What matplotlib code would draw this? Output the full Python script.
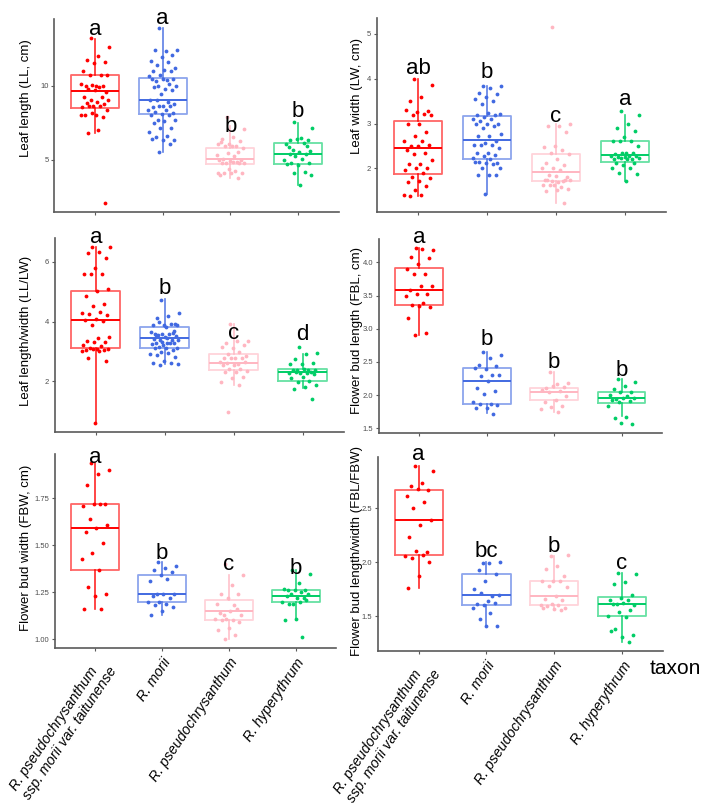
import matplotlib
matplotlib.use("Agg")
import matplotlib.pyplot as plt
import numpy as np

plt.rcParams['font.family'] = ['Liberation Sans', 'DejaVu Sans']

# ---------------- data ----------------
taxa = ["R. pseudochrysanthum\nssp. morii var. taitunense", "R. morii",
        "R. pseudochrysanthum", "R. hyperythrum"]
colors = ["#FF0000", "#4169E1", "#FFB6C1", "#00CD66"]

ll_red = [13.23, 12.62, 12.0, 11.73, 11.6, 11.55, 11.0, 10.72, 10.72, 10.72, 10.0, 10.0, 9.98, 10.04, 10.1, 9.9,
          9.75, 9.55, 9.7, 9.2, 9.2, 9.0, 9.0, 8.92, 8.8, 8.75, 8.63, 8.55, 8.59, 8.62, 8.36, 8.0, 8.0, 7.9, 8.15,
          8.03, 7.0, 6.8, 2.04]
ll_blue = [13.92, 12.44, 12.35, 12.44, 12.06, 11.95, 11.68, 11.62, 11.39, 11.2, 11.05, 10.99, 11.02, 10.7, 10.65,
           10.38, 10.3, 10.43, 10.45, 10.43, 10.13, 10.0, 9.98, 9.75, 9.93, 9.71, 9.44, 9.04, 8.92, 9.04, 8.74, 8.63,
           8.54, 8.59, 8.59, 8.36, 8.32, 8.25, 8.18, 8.1, 8.03, 8.03, 7.65, 7.69, 7.58, 7.47, 7.13, 7.15, 6.84, 6.61,
           6.5, 6.35, 6.35, 6.4, 6.03, 5.54]
ll_pink = [7.87, 7.06, 6.52, 6.39, 6.23, 6.08, 6.08, 5.9, 5.9, 5.81, 5.9, 6.17, 5.54, 5.45, 5.3, 5.27, 5.05, 4.96,
           4.9, 4.96, 4.84, 4.78, 4.73, 4.82, 4.73, 4.78, 4.33, 4.1, 4.22, 4.06, 4.06, 4.1, 3.92, 3.77]
ll_green = [7.51, 7.13, 6.43, 6.34, 6.34, 6.39, 6.08, 6.12, 5.63, 5.56, 5.49, 5.83, 5.34, 5.22, 5.0, 5.05, 4.73,
            4.78, 4.62, 4.71, 4.17, 4.1, 3.95, 3.27, 5.4, 5.9]
ll_q1 = [8.5, 8.05, 4.71, 4.71]
ll_med = [9.62, 9.04, 5.05, 5.38]
ll_q3 = [10.7, 10.54, 5.78, 6.12]
ll_lo = [6.8, 5.54, 3.77, 3.27]
ll_hi = [13.18, 13.9, 7.24, 7.47]
ll_letters = ["a", "a", "b", "b"]

lw_red = [4.0, 3.85, 3.59, 3.5, 3.29, 3.26, 3.3, 3.21, 3.19, 3.19, 2.98, 3.0, 2.8, 2.71, 2.6, 2.6, 2.5, 2.51, 2.49,
          2.4, 2.35, 2.31, 2.19, 2.09, 2.09, 2.0, 2.0, 1.96, 1.89, 1.81, 1.78, 1.72, 1.7, 1.61, 1.51, 1.41, 1.41, 1.37]
lw_blue = [3.84, 3.84, 3.79, 3.69, 3.65, 3.59, 3.54, 3.51, 3.43, 3.22, 3.23, 3.19, 3.19, 3.14, 3.1, 3.1, 3.06, 2.99,
           2.99, 2.99, 2.95, 2.9, 2.76, 2.71, 2.71, 2.61, 2.57, 2.52, 2.52, 2.51, 2.46, 2.35, 2.34, 2.3, 2.28, 2.22,
           2.21, 2.15, 2.11, 2.11, 2.13, 2.09, 2.0, 2.0, 1.85, 1.84, 1.86, 1.42]
lw_pink = [5.16, 2.99, 2.95, 2.95, 2.8, 2.49, 2.47, 2.41, 2.35, 2.32, 2.21, 2.11, 2.07, 2.0, 2.0, 1.96, 1.85, 1.81,
           1.83, 1.74, 1.72, 1.72, 1.74, 1.7, 1.74, 1.74, 1.63, 1.63, 1.59, 1.63, 1.53, 1.51, 1.5, 1.22]
lw_green = [3.29, 3.19, 2.99, 2.9, 2.84, 2.69, 2.6, 2.6, 2.6, 2.5, 2.35, 2.31, 2.35, 2.34, 2.28, 2.28, 2.26, 2.28,
            2.26, 2.2, 2.2, 2.22, 2.22, 2.2, 2.11, 2.11, 2.07, 2.0, 2.0, 1.9, 1.87, 1.72]
lw_q1 = [1.87, 2.2, 1.72, 2.13]
lw_med = [2.45, 2.64, 1.92, 2.3]
lw_q3 = [3.05, 3.16, 2.32, 2.6]
lw_lo = [1.38, 1.42, 1.22, 1.72]
lw_hi = [4.0, 3.84, 2.99, 3.19]
lw_letters = ["ab", "b", "c", "a"]

r1_red = [6.49, 6.49, 6.32, 6.29, 6.12, 5.77, 5.57, 5.57, 5.57, 5.1, 5.01, 4.84, 4.57, 4.53, 4.29, 4.32, 4.24, 4.21,
          4.08, 4.06, 4.01, 3.88, 3.48, 3.46, 3.34, 3.32, 3.3, 3.21, 3.19, 3.1, 3.07, 3.08, 3.04, 3.04, 3.07, 3.01,
          3.02, 2.77, 2.69, 0.61]
r1_blue = [4.73, 4.27, 4.19, 4.13, 3.91, 3.9, 3.88, 3.91, 3.99, 3.88, 3.82, 3.6, 3.63, 3.6, 3.66, 3.6, 3.54, 3.5,
           3.49, 3.41, 3.38, 3.38, 3.38, 3.29, 3.27, 3.27, 3.21, 3.24, 3.29, 3.16, 3.12, 3.1, 3.1, 3.04, 2.99, 2.9,
           2.96, 2.88, 2.82, 2.69, 2.63, 2.63, 2.54, 2.57, 3.45, 3.55, 3.7, 3.3]
r1_pink = [3.93, 3.34, 3.34, 3.27, 3.23, 3.12, 3.16, 2.99, 2.9, 2.86, 2.79, 2.77, 2.77, 2.79, 2.66, 2.57, 2.6, 2.66,
           2.54, 2.54, 2.4, 2.41, 2.34, 2.32, 2.32, 2.16, 2.12, 1.99, 1.88, 0.97]
r1_green = [3.16, 2.96, 2.93, 2.74, 2.6, 2.57, 2.57, 2.38, 2.38, 2.38, 2.41, 2.38, 2.32, 2.27, 2.27, 2.27, 2.3, 2.24,
            2.16, 2.1, 2.01, 1.99, 1.88, 1.8, 1.74, 1.43]
r1_q1 = [3.1, 3.12, 2.38, 2.02]
r1_med = [4.04, 3.46, 2.63, 2.3]
r1_q3 = [5.01, 3.82, 2.9, 2.4]
r1_lo = [0.62, 2.57, 1.88, 1.77]
r1_hi = [6.49, 4.74, 3.93, 2.93]
r1_letters = ["a", "b", "c", "d"]

fbl_red = [4.22, 4.19, 4.2, 4.08, 4.07, 3.97, 3.9, 3.83, 3.83, 3.65, 3.64, 3.59, 3.53, 3.52, 3.49, 3.39, 3.36, 3.32,
           3.35, 3.16, 2.93, 2.9]
fbl_blue = [2.65, 2.6, 2.56, 2.46, 2.44, 2.39, 2.4, 2.3, 2.28, 2.3, 2.21, 2.1, 2.06, 2.02, 1.89, 1.87, 1.86, 1.85,
            1.81, 1.8, 1.72]
fbl_pink = [2.34, 2.18, 2.16, 2.1, 2.12, 2.13, 2.08, 2.06, 2.05, 1.98, 1.92, 1.89, 1.84, 1.82, 1.79, 1.74]
fbl_green = [2.24, 2.19, 2.13, 2.09, 2.04, 2.05, 2.0, 1.99, 1.94, 1.95, 1.95, 1.92, 1.91, 1.89, 1.84, 1.67, 1.66,
             1.56, 1.58]
fbl_q1 = [3.36, 1.87, 1.92, 1.88]
fbl_med = [3.59, 2.21, 2.05, 1.95]
fbl_q3 = [3.91, 2.4, 2.11, 2.04]
fbl_lo = [2.9, 1.73, 1.74, 1.68]
fbl_hi = [4.22, 2.65, 2.35, 2.24]
fbl_letters = ["a", "b", "b", "b"]

fbw_red = [1.94, 1.9, 1.88, 1.82, 1.72, 1.72, 1.71, 1.72, 1.64, 1.61, 1.59, 1.57, 1.51, 1.46, 1.43, 1.37, 1.28,
           1.24, 1.23, 1.16, 1.16]
fbw_blue = [1.41, 1.39, 1.38, 1.37, 1.36, 1.34, 1.31, 1.32, 1.24, 1.24, 1.24, 1.23, 1.22, 1.2, 1.2, 1.19, 1.18,
            1.17, 1.15, 1.13]
fbw_pink = [1.4, 1.34, 1.29, 1.24, 1.24, 1.22, 1.19, 1.18, 1.13, 1.13, 1.15, 1.14, 1.16, 1.11, 1.11, 1.1, 1.1,
            1.09, 1.06, 1.05, 1.02, 1.0]
fbw_green = [1.37, 1.35, 1.3, 1.26, 1.26, 1.26, 1.27, 1.25, 1.24, 1.24, 1.22, 1.23, 1.22, 1.19, 1.2, 1.2, 1.19,
             1.21, 1.11, 1.1, 1.01]
fbw_q1 = [1.37, 1.2, 1.1, 1.2]
fbw_med = [1.59, 1.24, 1.15, 1.23]
fbw_q3 = [1.72, 1.34, 1.21, 1.26]
fbw_lo = [1.16, 1.13, 1.0, 1.1]
fbw_hi = [1.94, 1.41, 1.34, 1.37]
fbw_letters = ["a", "b", "c", "b"]

r2_red = [2.89, 2.84, 2.73, 2.7, 2.67, 2.68, 2.61, 2.56, 2.5, 2.39, 2.34, 2.23, 2.09, 2.1, 2.06, 2.07, 2.04, 2.0,
          1.87, 1.76]
r2_blue = [1.99, 2.0, 1.99, 1.93, 1.89, 1.83, 1.75, 1.69, 1.71, 1.7, 1.64, 1.61, 1.62, 1.6, 1.58, 1.53, 1.47, 1.41,
           1.41]
r2_pink = [2.06, 2.07, 1.96, 1.94, 1.87, 1.83, 1.83, 1.83, 1.78, 1.77, 1.69, 1.66, 1.65, 1.61, 1.6, 1.6, 1.59, 1.58,
           1.57, 1.58, 1.56]
r2_green = [1.9, 1.89, 1.82, 1.8, 1.7, 1.67, 1.65, 1.65, 1.61, 1.6, 1.62, 1.61, 1.56, 1.54, 1.5, 1.49, 1.38, 1.33,
            1.31, 1.36, 1.26]
r2_q1 = [2.07, 1.6, 1.6, 1.5]
r2_med = [2.39, 1.7, 1.69, 1.61]
r2_q3 = [2.67, 1.89, 1.83, 1.68]
r2_lo = [1.76, 1.41, 1.56, 1.26]
r2_hi = [2.89, 2.0, 2.06, 1.9]
r2_letters = ["a", "bc", "b", "c"]

# ---------------- layout ----------------
W, H = 722, 807
fig = plt.figure(figsize=(W / 100, H / 100), dpi=100)


def add_ax(l, r, t, b):
    return fig.add_axes([l / W, 1 - b / H, (r - l) / W, (b - t) / H])


panels = [
    dict(box=(54.4, 338.6, 19, 212), groups=[ll_red, ll_blue, ll_pink, ll_green],
         stats=(ll_q1, ll_med, ll_q3, ll_lo, ll_hi), letters=ll_letters,
         letter_y=[13.41, 14.19, 6.88, 7.87], ticks=[5, 10], fmt="{:g}",
         ylabel="Leaf length (LL, cm)", lab=(26, 98), xlab=False),
    dict(box=(376.6, 666.4, 18, 212), groups=[lw_red, lw_blue, lw_pink, lw_green],
         stats=(lw_q1, lw_med, lw_q3, lw_lo, lw_hi), letters=lw_letters,
         letter_y=[4.11, 4.01, 3.04, 3.42], ticks=[2, 3, 4, 5], fmt="{:g}",
         ylabel="Leaf width (LW, cm)", lab=(357, 96), xlab=False),
    dict(box=(54.6, 344, 238, 432), groups=[r1_red, r1_blue, r1_pink, r1_green],
         stats=(r1_q1, r1_med, r1_q3, r1_lo, r1_hi), letters=r1_letters,
         letter_y=[6.63, 4.93, 3.41, 3.38], ticks=[2, 4, 6], fmt="{:g}",
         ylabel="Leaf length/width (LL/LW)", lab=(26, 331), xlab=False),
    dict(box=(378.8, 662, 239, 433), groups=[fbl_red, fbl_blue, fbl_pink, fbl_green],
         stats=(fbl_q1, fbl_med, fbl_q3, fbl_lo, fbl_hi), letters=fbl_letters,
         letter_y=[4.29, 2.75, 2.40, 2.29], ticks=[1.5, 2.0, 2.5, 3.0, 3.5, 4.0], fmt="{:.1f}",
         ylabel="Flower bud length (FBL, cm)", lab=(357, 330), xlab=False),
    dict(box=(54.8, 336, 454, 648), groups=[fbw_red, fbw_blue, fbw_pink, fbw_green],
         stats=(fbw_q1, fbw_med, fbw_q3, fbw_lo, fbw_hi), letters=fbw_letters,
         letter_y=[1.94, 1.43, 1.37, 1.346], ticks=[1.0, 1.25, 1.5, 1.75], fmt="{:.2f}",
         ylabel="Flower bud width (FBW, cm)", lab=(26, 548), xlab=True),
    dict(box=(378, 662.7, 457, 651), groups=[r2_red, r2_blue, r2_pink, r2_green],
         stats=(r2_q1, r2_med, r2_q3, r2_lo, r2_hi), letters=r2_letters,
         letter_y=[2.94, 2.05, 2.09, 1.94], ticks=[1.5, 2.0, 2.5], fmt="{:.1f}",
         ylabel="Flower bud length/width (FBL/FBW)", lab=(357, 551), xlab=True),
]

positions = np.arange(1, len(taxa) + 1)
axis_col = "#5A5A5A"
golden = 0.6180339887

for p in panels:
    ax = add_ax(*p["box"])
    q1, med, q3, lo, hi = p["stats"]
    for i, c in enumerate(colors):
        st = [dict(med=med[i], q1=q1[i], q3=q3[i], whislo=lo[i], whishi=hi[i], fliers=[])]
        ax.bxp(st, positions=[positions[i]], widths=0.71, showcaps=False, showfliers=False,
               boxprops=dict(color=c, alpha=0.6, lw=1.3),
               whiskerprops=dict(color=c, alpha=0.85, lw=1.2),
               medianprops=dict(color=c, lw=1.4), manage_ticks=False)
        vals = np.asarray(p["groups"][i])
        jit = ((np.arange(len(vals)) * golden + 0.37) % 1.0 - 0.5) * 0.42
        ax.scatter(positions[i] + jit, vals, s=7.5, color=c, linewidths=0, zorder=3)
        ax.text(positions[i], p["letter_y"][i], p["letters"][i], ha="center", va="baseline",
                fontsize=16, color="black", clip_on=False)
    allv = np.concatenate([np.asarray(g) for g in p["groups"]] + [np.asarray(lo), np.asarray(hi)])
    lo_v, hi_v = allv.min(), allv.max()
    pad = 0.05 * (hi_v - lo_v)
    ax.set_ylim(lo_v - pad, hi_v + pad)
    ax.set_xlim(0.4, 4.6)
    ax.set_yticks(p["ticks"])
    ax.set_yticklabels([p["fmt"].format(t) for t in p["ticks"]])
    ax.set_xticks(positions)
    for s in ["top", "right"]:
        ax.spines[s].set_visible(False)
    for s in ["left", "bottom"]:
        ax.spines[s].set_color(axis_col)
        ax.spines[s].set_linewidth(1.2)
    ax.tick_params(axis="both", colors=axis_col, length=2.5, width=0.8, labelsize=5.5,
                   labelcolor="#4D4D4D", pad=1.5)
    if p["xlab"]:
        labs = ax.set_xticklabels(taxa, rotation=56, ha="right", va="top", rotation_mode="anchor",
                                  fontsize=10.2, fontstyle="italic", color="black")
        for t in labs:
            t.set_multialignment("left")
        ax.tick_params(axis="x", pad=3)
    else:
        ax.set_xticklabels([])
    ax.set_facecolor("white")
    fig.text(p["lab"][0] / W, 1 - p["lab"][1] / H, p["ylabel"], rotation=90, ha="center",
             va="center", fontsize=9.5, color="black")

fig.text(650 / W, 1 - 668 / H, "taxon", ha="left", va="center", fontsize=15, color="black")

fig.savefig("out.png", dpi=100, facecolor="white")
